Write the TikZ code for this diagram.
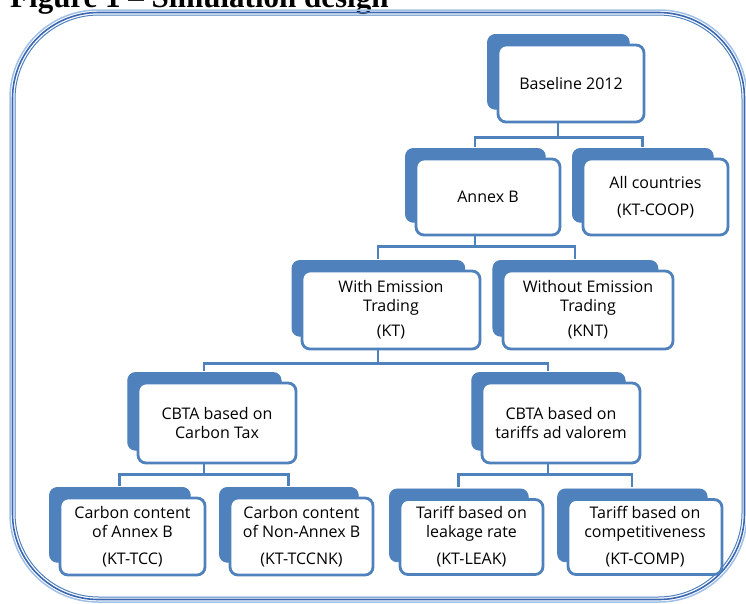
\documentclass[tikz,border=0pt]{standalone}
\usepackage{fontspec}
\setmainfont{Open Sans}
\newfontfamily\titlefont{Liberation Serif}
\usepackage{xcolor}
\usetikzlibrary{shadows}
\definecolor{boxblue}{RGB}{79,129,189}
\definecolor{framedark}{RGB}{58,102,178}
\definecolor{framelight}{RGB}{160,192,230}

\tikzset{
    stage/.style={draw=boxblue, line width=2.8pt, fill=white, rounded corners=8pt,
        align=center, inner sep=2pt, font=\fontsize{16}{19}\selectfont,
        copy shadow={shadow xshift=-13pt, shadow yshift=12pt, shadow scale=0.97,
            fill=boxblue, draw=boxblue, line width=1pt}},
    link/.style={draw=boxblue, line width=2.8pt},
}

\begin{document}
\begin{tikzpicture}[x=1pt, y=-1pt]
    \path[use as bounding box] (0,0) rectangle (746,603);
    \clip (0,0) rectangle (746,603);

    % Title, cut by the top edge
    \node[anchor=base west, inner sep=0pt, font=\titlefont\bfseries\fontsize{31}{31}\selectfont] (title) at (10,7) {Figure 1 – Simulation design};

    % Frame
    \draw[framelight, line width=1.5pt, rounded corners=88pt] (10,10) rectangle (747,602);
    \draw[framedark, line width=1.6pt, rounded corners=86pt] (12.5,12.5) rectangle (744.5,599.5);
    \draw[boxblue, line width=1pt, rounded corners=84pt] (15,15) rectangle (742,597);

    % Stages
    \node[stage, minimum width=146pt, minimum height=77pt] (base) at (571,83.5) {Baseline 2012};
    \node[stage, minimum width=144pt, minimum height=76pt] (annex) at (488,197) {Annex B};
    \node[stage, minimum width=145pt, minimum height=76pt] (all) at (655.5,197) {All countries\\[8pt](KT-COOP)};
    \node[stage, minimum width=178pt, minimum height=78pt] (with) at (391,310) {With Emission\\Trading\\[6pt](KT)};
    \node[stage, minimum width=170pt, minimum height=78pt] (without) at (588,310) {Without Emission\\Trading\\[6pt](KNT)};
    \node[stage, minimum width=158pt, minimum height=80pt] (tax) at (217,423) {CBTA based on\\Carbon Tax};
    \node[stage, minimum width=158pt, minimum height=80pt] (tariff) at (561,423) {CBTA based on\\tariffs ad valorem};
    \node[stage, minimum width=145pt, minimum height=77pt] (tcc) at (132.5,536.5) {Carbon content\\of Annex B\\[8pt](KT-TCC)};
    \node[stage, minimum width=143pt, minimum height=77pt] (tccnk) at (301.5,536.5) {Carbon content\\of Non-Annex B\\[8pt](KT-TCCNK)};
    \node[stage, minimum width=143pt, minimum height=75pt] (leak) at (471.5,537) {Tariff based on\\leakage rate\\[8pt](KT-LEAK)};
    \node[stage, minimum width=154pt, minimum height=75pt] (comp) at (645,537) {Tariff based on\\competitiveness\\[8pt](KT-COMP)};

    % Connectors
    \foreach \p/\a/\b/\d in {base/annex/all/14, annex/with/without/10, with/tax/tariff/13, tax/tcc/tccnk/10, tariff/leak/comp/10} {
        \draw[link] ([xshift=-13pt]\p.south) -- ++(0,\d) coordinate (\p-bus);
        \draw[link] ([xshift=-13pt,yshift=11pt]\a.north) |- (\p-bus) -| ([xshift=-13pt,yshift=11pt]\b.north);
    }
\end{tikzpicture}
\end{document}
